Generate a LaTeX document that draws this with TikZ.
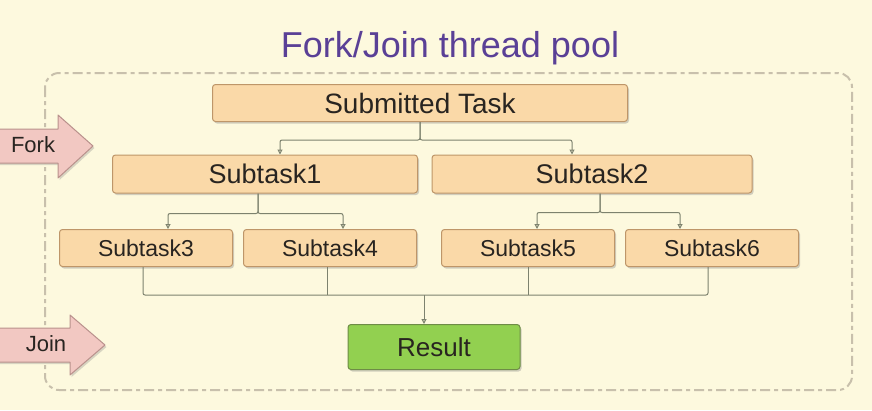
\documentclass[tikz,border=0pt]{standalone}
\usepackage{fontspec}
\setmainfont{Liberation Sans}
\usetikzlibrary{arrows.meta,shadows}

\definecolor{paper}{RGB}{253,249,222}
\definecolor{peach}{RGB}{250,217,168}
\definecolor{peachline}{RGB}{190,150,105}
\definecolor{leaf}{RGB}{146,208,80}
\definecolor{leafline}{RGB}{110,140,70}
\definecolor{rose}{RGB}{242,200,194}
\definecolor{roseline}{RGB}{185,145,140}
\definecolor{wire}{RGB}{125,130,110}
\definecolor{plum}{RGB}{90,64,150}
\definecolor{ink}{RGB}{40,36,32}
\definecolor{pool}{RGB}{200,192,172}

\begin{document}
\begin{tikzpicture}[x=1pt, y=-1pt]

\tikzstyle{task}=[rectangle, draw=peachline, fill=peach, rounded corners=3pt, line width=1pt, inner sep=0pt,
                  text=ink, drop shadow={shadow xshift=1.5pt, shadow yshift=-2pt, opacity=0.35}]
\tikzstyle{result}=[task, draw=leafline, fill=leaf]
\tikzstyle{pinkarrow}=[draw=roseline, fill=rose, line width=1pt, line join=round,
                       drop shadow={shadow xshift=1.5pt, shadow yshift=-2pt, opacity=0.3}]
\tikzstyle{side}=[text=ink, font=\fontsize{22}{24}\selectfont]
\tikzstyle{link}=[draw=wire, line width=1pt, rounded corners=2pt]
\tikzstyle{arrow}=[link, -{Triangle[open, length=5pt, width=5pt]}]

\useasboundingbox [fill=paper] (0,0) rectangle (872,410);

% pool
\draw [draw=pool, line width=2pt, rounded corners=14pt, dash pattern=on 10pt off 4pt on 4pt off 4pt]
      (45,73) rectangle (852,390);
\node (title) at (450,48) [text=plum, font=\fontsize{36}{40}\selectfont] {Fork/Join thread pool};

% tasks
\node (T)  [task, minimum width=415, minimum height=37, font=\fontsize{28}{30}\selectfont] at (420,103) {Submitted Task};
\node (S1) [task, minimum width=305, minimum height=38, font=\fontsize{27}{30}\selectfont] at (265,174) {Subtask1};
\node (S2) [task, minimum width=320, minimum height=38, font=\fontsize{27}{30}\selectfont] at (592,174) {Subtask2};
\node (S3) [task, minimum width=173, minimum height=37, font=\fontsize{23}{26}\selectfont] at (146,248) {Subtask3};
\node (S4) [task, minimum width=173, minimum height=37, font=\fontsize{23}{26}\selectfont] at (330,248) {Subtask4};
\node (S5) [task, minimum width=173, minimum height=37, font=\fontsize{23}{26}\selectfont] at (528,248) {Subtask5};
\node (S6) [task, minimum width=173, minimum height=37, font=\fontsize{23}{26}\selectfont] at (712,248) {Subtask6};
\node (R)  [result, minimum width=172, minimum height=45, font=\fontsize{26}{28}\selectfont] at (434,347) {Result};

% fork / join
\draw [pinkarrow] (-5,129) -- (58,129) -- (58,115) -- (93,146) -- (58,178) -- (58,163) -- (-5,163) -- cycle;
\node (F) [side] at (33,145) {Fork};
\draw [pinkarrow] (-5,328) -- (70,328) -- (70,315) -- (105,345) -- (70,375) -- (70,362) -- (-5,362) -- cycle;
\node (J) [side] at (46,344) {Join};

% fork
\draw [arrow] (T.south) -- ++(0,18) -| ([xshift=15pt]S1.north);
\draw [arrow] (T.south) -- ++(0,18) -| ([xshift=-20pt]S2.north);
\draw [arrow] ([xshift=-7pt]S1.south) -- ++(0,20) -| ([xshift=22pt]S3.north);
\draw [arrow] ([xshift=-7pt]S1.south) -- ++(0,20) -| ([xshift=13pt]S4.north);
\draw [arrow] ([xshift=8pt]S2.south) -- ++(0,19) -| ([xshift=9pt]S5.north);
\draw [arrow] ([xshift=8pt]S2.south) -- ++(0,19) -| ([xshift=-32pt]S6.north);

% join
\draw [link] ([xshift=-3pt]S3.south) |- ([xshift=-4pt]S6.south |- 0,295) -- ([xshift=-4pt]S6.south);
\draw [link] ([xshift=-3pt]S4.south) -- ++(0,28);
\draw [link] (S5.south) -- ++(0,28);
\draw [arrow] ([xshift=-10pt]R.north |- 0,295) -- ([xshift=-10pt]R.north);

\end{tikzpicture}
\end{document}
